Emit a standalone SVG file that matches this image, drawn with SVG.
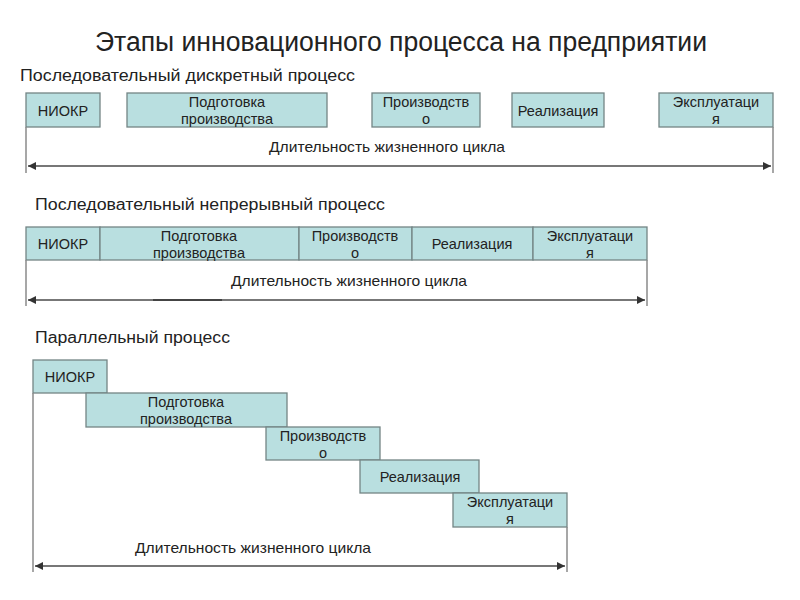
<svg xmlns="http://www.w3.org/2000/svg" width="800" height="600" viewBox="0 0 800 600">
<defs>
<style>
text{font-family:"Liberation Sans",Arial,sans-serif;fill:#222}
.title{font-size:27px}
.h{font-size:16px}
.b{font-size:14.5px;text-anchor:middle}
.lbl{font-size:14.5px;text-anchor:middle}
.box{fill:#b9dfe0;stroke:#738585;stroke-width:1.3}
.ln{stroke:#8a8a8a;stroke-width:1.5;fill:none}
.ar{stroke:#777;stroke-width:2;fill:none}
</style>
<marker id="ah" viewBox="0 0 6 6" refX="6" refY="3" markerWidth="4" markerHeight="4" orient="auto-start-reverse"><path d="M0,0 L6,3 L0,6 z" fill="#333"/></marker>
</defs>
<rect width="800" height="600" fill="#fff"/>
<text class="title" x="95" y="51" textLength="612" lengthAdjust="spacingAndGlyphs">Этапы инновационного процесса на предприятии</text>

<text class="h" x="20" y="81" textLength="335" lengthAdjust="spacingAndGlyphs">Последовательный дискретный процесс</text>
<g id="s1-niokr"><rect class="box" x="26" y="93" width="74" height="34"/><text class="b" x="63" y="116">НИОКР</text></g>
<g id="s1-podg"><rect class="box" x="127" y="93" width="200" height="34"/><text class="b" x="227" y="107">Подготовка</text><text class="b" x="227" y="124">производства</text></g>
<g id="s1-proizv"><rect class="box" x="372" y="93" width="108" height="34"/><text class="b" x="426" y="107">Производств</text><text class="b" x="426" y="124">о</text></g>
<g id="s1-real"><rect class="box" x="512" y="93" width="92" height="34"/><text class="b" x="558" y="116">Реализация</text></g>
<g id="s1-eksp"><rect class="box" x="659" y="93" width="114" height="34"/><text class="b" x="716" y="107">Эксплуатаци</text><text class="b" x="716" y="124">я</text></g>
<text class="lbl" x="387" y="152" textLength="236" lengthAdjust="spacingAndGlyphs">Длительность жизненного цикла</text>

<text class="h" x="35" y="210" textLength="350" lengthAdjust="spacingAndGlyphs">Последовательный непрерывный процесс</text>
<g id="s2-niokr"><rect class="box" x="26" y="227" width="74" height="33"/><text class="b" x="63" y="249">НИОКР</text></g>
<g id="s2-podg"><rect class="box" x="100" y="227" width="199" height="33"/><text class="b" x="199" y="241">Подготовка</text><text class="b" x="199" y="258">производства</text></g>
<g id="s2-proizv"><rect class="box" x="299" y="227" width="113" height="33"/><text class="b" x="355" y="241">Производств</text><text class="b" x="355" y="258">о</text></g>
<g id="s2-real"><rect class="box" x="412" y="227" width="121" height="33"/><text class="b" x="472" y="249">Реализация</text></g>
<g id="s2-eksp"><rect class="box" x="533" y="227" width="114" height="33"/><text class="b" x="590" y="241">Эксплуатаци</text><text class="b" x="590" y="258">я</text></g>
<text class="lbl" x="349" y="286" textLength="236" lengthAdjust="spacingAndGlyphs">Длительность жизненного цикла</text>

<text class="h" x="35" y="343" textLength="195" lengthAdjust="spacingAndGlyphs">Параллельный процесс</text>
<g id="s3-niokr"><rect class="box" x="33" y="360" width="74" height="33"/><text class="b" x="70" y="382">НИОКР</text></g>
<g id="s3-podg"><rect class="box" x="86" y="393" width="201" height="34"/><text class="b" x="186" y="407">Подготовка</text><text class="b" x="186" y="424">производства</text></g>
<g id="s3-proizv"><rect class="box" x="266" y="427" width="114" height="33"/><text class="b" x="323" y="441">Производств</text><text class="b" x="323" y="458">о</text></g>
<g id="s3-real"><rect class="box" x="360" y="460" width="119" height="33"/><text class="b" x="420" y="482">Реализация</text></g>
<g id="s3-eksp"><rect class="box" x="453" y="493" width="114" height="34"/><text class="b" x="510" y="507">Эксплуатаци</text><text class="b" x="510" y="524">я</text></g>
<text class="lbl" x="253" y="553" textLength="236" lengthAdjust="spacingAndGlyphs">Длительность жизненного цикла</text>

<g id="connectors">
<line class="ln" x1="26" y1="127" x2="26" y2="173"/>
<line class="ln" x1="773" y1="127" x2="773" y2="173"/>
<line class="ar" x1="28" y1="166" x2="771" y2="166" marker-start="url(#ah)" marker-end="url(#ah)"/>
<line class="ln" x1="26" y1="260" x2="26" y2="306"/>
<line class="ln" x1="647" y1="260" x2="647" y2="306"/>
<line class="ar" x1="28" y1="300" x2="645" y2="300" marker-start="url(#ah)" marker-end="url(#ah)"/>
<line x1="153" y1="300" x2="222" y2="300" stroke="#444" stroke-width="2"/>
<line class="ln" x1="33" y1="393" x2="33" y2="572"/>
<line class="ln" x1="567" y1="527" x2="567" y2="572"/>
<line class="ar" x1="35" y1="566" x2="565" y2="566" marker-start="url(#ah)" marker-end="url(#ah)"/>
</g>
</svg>
